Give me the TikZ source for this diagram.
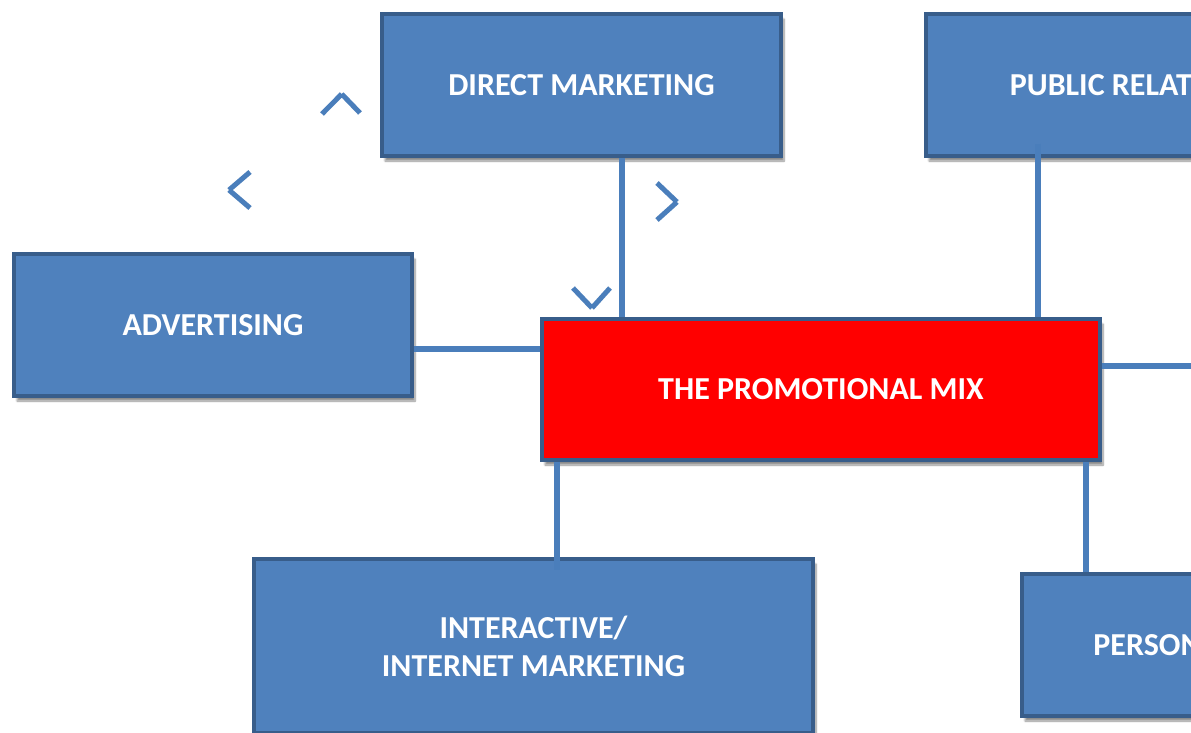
\documentclass[tikz,border=0pt]{standalone}
\usepackage{fontspec}
\setmainfont{Carlito}
\usepackage{tikz}
\usetikzlibrary{calc,shadows.blur}

\definecolor{boxblue}{HTML}{4F81BD}
\definecolor{edgeblue}{HTML}{385D8A}
\definecolor{linkblue}{HTML}{4A7EBB}
\definecolor{mixred}{HTML}{FF0000}

\begin{document}
\begin{tikzpicture}[
  x=1pt,y=-1pt,
  box/.style={draw=edgeblue,line width=4pt,fill=boxblue,text=white,align=center,inner sep=0pt,
    font=\fontsize{32}{38}\selectfont\bfseries,
    blur shadow={shadow xshift=3pt,shadow yshift=-5pt,shadow blur steps=8,shadow opacity=45}},
  mixbox/.style={box,fill=mixred},
  link/.style={draw=linkblue,line width=6pt},
  chev/.style={draw=linkblue,line width=5pt}]
\useasboundingbox (0,0) rectangle (1191,733);
\clip (0,0) rectangle (1191,733);
% the five tools round the mix
\node[box,minimum width=399pt,minimum height=142pt] (dm) at (581.5,85) {DIRECT MARKETING};
\node[box,minimum width=416pt,minimum height=142pt] (pr) at (1134,85) {PUBLIC RELATIONS};
\node[box,minimum width=398pt,minimum height=142pt] (adv) at (213,325) {ADVERTISING};
\node[mixbox,minimum width=558pt,minimum height=141pt] (mix) at (821,389.5) {THE PROMOTIONAL MIX};
\node[box,minimum width=559pt,minimum height=174pt] (inet) at (533.5,646) {INTERACTIVE/\\INTERNET MARKETING};
\node[box,minimum width=399pt,minimum height=142pt] (pers) at (1221.5,645) {PERSONAL SELLING};
\coordinate (sp) at (1200,366);
% links
\draw[link] ($(dm.south)+(40.5,0)$) -- ($(mix.north)+(-199,0)$);
\draw[link] ($(pr.south)+(-96,-14)$) -- ($(mix.north)+(217,0)$);
\draw[link] ($(adv.east)+(0,24)$) -- ($(mix.west)+(0,-40.5)$);
\draw[link] ($(mix.east)+(0,-23.5)$) -- (sp);
\draw[link] ($(mix.south)+(-264,0)$) -- ($(inet.north)+(23.5,13)$);
\draw[link] ($(mix.south)+(265,0)$) -- ($(pers.north)+(-135.5,0)$);
% arrow heads of the cycle
\foreach \ax/\ay/\bx/\by/\cx/\cy in {322/114/341.7/94/360/113,250/172/229/190/250/208,
    657/183/677/202/657/220,573/288/592/308/610/288}
  \draw[chev] (\ax,\ay) -- (\bx,\by) (\bx,\by) -- (\cx,\cy);
\end{tikzpicture}
\end{document}
